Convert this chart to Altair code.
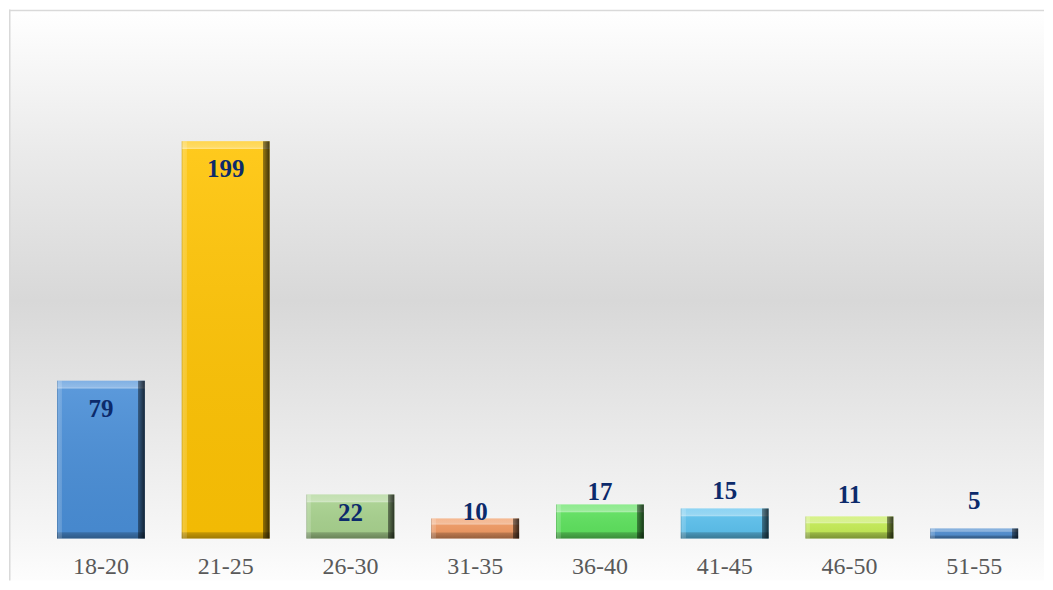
import altair as alt
import pandas as pd

# ---- data ----
ages = ["18-20", "21-25", "26-30", "31-35", "36-40", "41-45", "46-50", "51-55"]
counts = [79, 199, 22, 10, 17, 15, 11, 5]

# ---- styles ----
bar_colors = ["#4a8fd8", "#ffc404", "#a9d38f", "#f29a62",
              "#5ee35e", "#5cc2ef", "#c6ee55", "#4f8dd0"]
label_dy = {"18-20": 28, "21-25": 28, "26-30": 18, "31-35": -6.5,
            "36-40": -12.5, "41-45": -18, "46-50": -21.5, "51-55": -27.5}

df = pd.DataFrame({"age": ages, "count": counts})

W, H = 1037, 530
SERIF = "Liberation Serif"

x_main = alt.X(
    "age:N", sort=ages,
    scale=alt.Scale(paddingInner=0.296, paddingOuter=0.296, align=0.65),
    axis=alt.Axis(title=None, labelAngle=0, domain=False, ticks=False, grid=False,
                  labelFont=SERIF, labelFontSize=24, labelColor="#595959",
                  labelPadding=16, zindex=2),
)
x_plain = alt.X("age:N", sort=ages)
y_scale = alt.Scale(domain=[0, 265])

base = alt.Chart(df)
one = alt.Chart(pd.DataFrame({"k": [0]}))

BG_H = H + 42
background = one.mark_rect(
    fill=alt.Gradient(gradient="linear", x1=0, y1=0, x2=0, y2=1, stops=[
        alt.GradientStop(offset=0, color="#ffffff"),
        alt.GradientStop(offset=0.24, color="#ebebeb"),
        alt.GradientStop(offset=0.51, color="#d8d8d8"),
        alt.GradientStop(offset=0.78, color="#ececec"),
        alt.GradientStop(offset=0.92, color="#f6f6f6"),
        alt.GradientStop(offset=1, color="#fdfdfd"),
    ])
).encode(x=alt.value(0), x2=alt.value(W), y=alt.value(0), y2=alt.value(BG_H))

bars = base.mark_bar().encode(
    x=x_main,
    y=alt.Y("count:Q", scale=y_scale, axis=None),
    color=alt.Color("age:N", scale=alt.Scale(domain=ages, range=bar_colors), legend=None),
)

face = base.mark_bar(
    fill=alt.Gradient(gradient="linear", x1=0, y1=0, x2=0, y2=1, stops=[
        alt.GradientStop(offset=0, color="rgba(255,255,255,0.10)"),
        alt.GradientStop(offset=1, color="rgba(0,0,0,0.05)"),
    ])
).encode(x=x_plain, y=alt.Y("count:Q", scale=y_scale))

top_bevel = base.transform_calculate(
    ytop="datum.count",
    ybot="datum.count - min(3.8, datum.count * 0.3)",
).mark_bar(
    fill=alt.Gradient(gradient="linear", x1=0, y1=0, x2=0, y2=1, stops=[
        alt.GradientStop(offset=0, color="rgba(255,255,255,0.22)"),
        alt.GradientStop(offset=0.75, color="rgba(255,255,255,0.32)"),
        alt.GradientStop(offset=1, color="rgba(255,255,255,0.50)"),
    ])
).encode(x=x_plain, y=alt.Y("ytop:Q", scale=y_scale), y2="ybot:Q")

bottom_bevel = base.transform_calculate(
    ytop="min(3.2, datum.count * 0.3)",
).mark_bar(
    fill=alt.Gradient(gradient="linear", x1=0, y1=0, x2=0, y2=1, stops=[
        alt.GradientStop(offset=0, color="rgba(0,0,0,0.18)"),
        alt.GradientStop(offset=1, color="rgba(0,0,0,0.35)"),
    ])
).encode(x=x_plain, y=alt.Y("ytop:Q", scale=y_scale), y2=alt.datum(0))

sides = base.mark_bar(
    fill=alt.Gradient(gradient="linear", x1=0, y1=0, x2=1, y2=0, stops=[
        alt.GradientStop(offset=0, color="rgba(0,0,0,0.20)"),
        alt.GradientStop(offset=0.012, color="rgba(255,255,255,0.22)"),
        alt.GradientStop(offset=0.055, color="rgba(255,255,255,0.14)"),
        alt.GradientStop(offset=0.056, color="rgba(255,255,255,0)"),
        alt.GradientStop(offset=0.925, color="rgba(0,0,0,0)"),
        alt.GradientStop(offset=0.926, color="rgba(0,0,0,0.40)"),
        alt.GradientStop(offset=1, color="rgba(0,0,0,0.75)"),
    ])
).encode(x=x_plain, y=alt.Y("count:Q", scale=y_scale))

label_layers = []
for a in ages:
    label_layers.append(
        base.transform_filter(alt.datum.age == a).mark_text(
            font=SERIF, fontSize=25, fontWeight="bold", color="#0c2a6b",
            baseline="middle", align="center", dy=label_dy[a],
        ).encode(x=x_plain, y=alt.Y("count:Q", scale=y_scale), text="count:Q")
    )

top_border = one.mark_rule(color="#d9d9d9", strokeWidth=1.5).encode(
    x=alt.value(0), x2=alt.value(W), y=alt.value(1))
left_border = one.mark_rule(color="#d9d9d9", strokeWidth=1.5).encode(
    x=alt.value(0.75), y=alt.value(0), y2=alt.value(BG_H))

chart = alt.layer(
    background, bars, face, top_bevel, bottom_bevel, sides, *label_layers,
    top_border, left_border
).properties(
    width=W, height=H, padding=0, background="#ffffff"
).configure_view(stroke=None)

chart.save("out.html", embed_options={"renderer": "svg", "actions": False})
